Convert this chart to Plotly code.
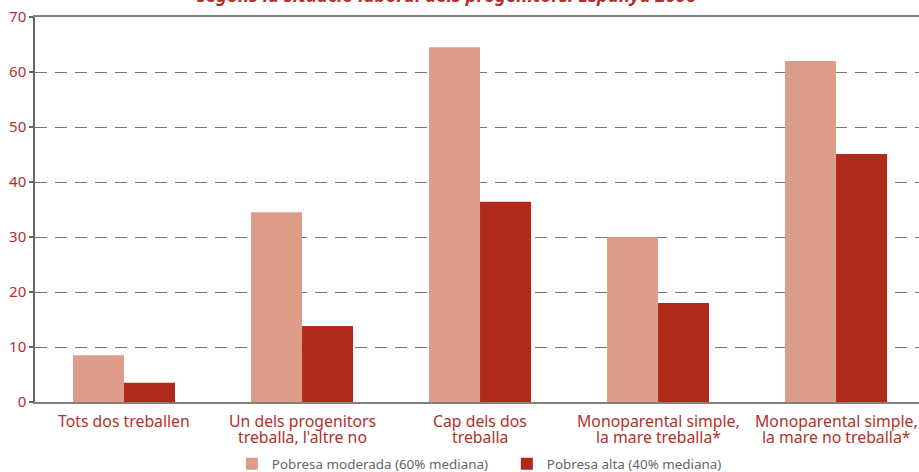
import plotly.graph_objects as go

categories = ["Tots dos treballen",
              "Un dels progenitors\ntreballa, l'altre no",
              "Cap dels dos\ntreballa",
              "Monoparental simple,\nla mare treballa*",
              "Monoparental simple,\nla mare no treballa*"]
moderada = [8.5, 34.5, 64.5, 30.0, 62.0]
alta = [3.5, 13.8, 36.4, 18.0, 45.1]
series_names = ["Pobresa moderada (60% mediana)", "Pobresa alta (40% mediana)"]
title_text = "segons la situació laboral dels progenitors. Espanya 2006"
y_ticks = [0, 10, 20, 30, 40, 50, 60, 70]

RED = "#b3302a"
FONT = "Noto Sans"

fig = go.Figure()
fig.add_trace(go.Bar(x=categories, y=moderada, name=series_names[0],
                     marker=dict(color="#dc9e88", line=dict(width=0))))
fig.add_trace(go.Bar(x=categories, y=alta, name=series_names[1],
                     marker=dict(color="#b02a1c", line=dict(width=0))))

fig.update_layout(
    width=919, height=472,
    margin=dict(l=35, r=0, t=17, b=70),
    paper_bgcolor="white", plot_bgcolor="white",
    barmode="group", bargap=0.427, bargroupgap=0,
    font=dict(family=FONT, color=RED),
    showlegend=True,
    legend=dict(orientation="h", xref="container", yref="container",
                x=0.2523, xanchor="left", y=0.017, yanchor="middle",
                font=dict(size=13.4, color="#666666", family=FONT),
                entrywidth=230, entrywidthmode="pixels"),
    xaxis=dict(range=[-0.5, 4.466], showline=True, linecolor="#808080", linewidth=2,
               mirror=True, ticks="", showticklabels=False,
               showgrid=False, fixedrange=True),
    yaxis=dict(range=[0, 70], tickvals=y_ticks, showline=True, linecolor="#666666",
               linewidth=1.5, ticks="outside", ticklen=4, tickcolor="#666666",
               tickwidth=1.5,
               tickfont=dict(size=15, color=RED, family=FONT),
               showgrid=True, gridcolor="#777777", gridwidth=1.3, griddash="12px,8px",
               zeroline=False, fixedrange=True),
)

# category labels (two tightly spaced lines, as in the reference)
for cat in categories:
    for i, line in enumerate(cat.split("\n")):
        fig.add_annotation(text=line, x=cat, xref="x", y=0, yref="paper",
                           xanchor="center", yanchor="middle", yshift=-19 - 16 * i,
                           showarrow=False,
                           font=dict(size=15.8, color=RED, family=FONT))

fig.add_annotation(text="<b><i>" + title_text + "</i></b>", xref="paper", yref="paper",
                   x=0.466, y=1.0208, xanchor="center", yanchor="bottom", showarrow=False,
                   font=dict(size=18.5, color=RED, family=FONT))

fig.write_html("out.html", config={"displayModeBar": False},
               post_script="document.body.style.margin='0';")
